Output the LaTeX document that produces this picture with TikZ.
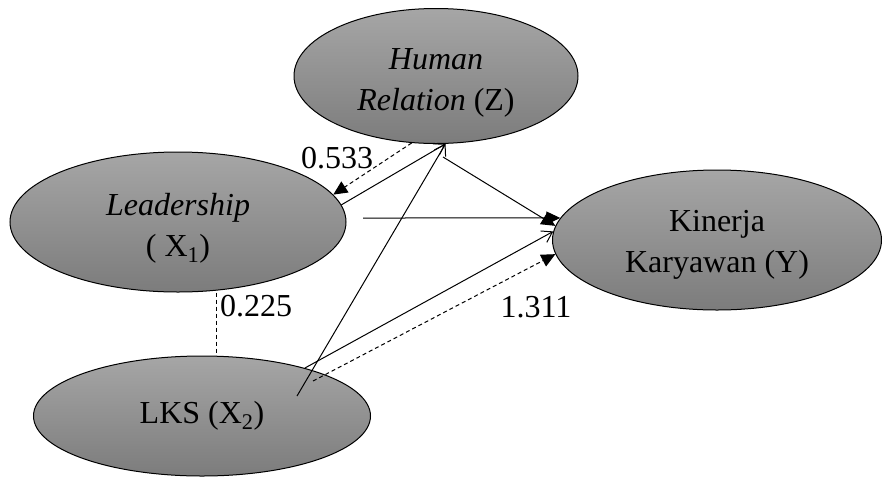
\documentclass[tikz,border=0pt]{standalone}
\usepackage{fontspec}
\setmainfont{Liberation Serif}
\usetikzlibrary{shapes.geometric,arrows.meta}
\definecolor{ovaltop}{RGB}{166,166,166}
\definecolor{ovalbot}{RGB}{124,124,124}

\begin{document}
\begin{tikzpicture}[x=1pt, y=-1pt, line width=1pt,
  var/.style={ellipse, draw, inner sep=0pt, top color=ovaltop, bottom color=ovalbot},
  vartext/.style={align=center, font=\fontsize{32}{41}\selectfont},
  val/.style={font=\fontsize{32}{38}\selectfont},
  fulltip/.style={-{Triangle[length=14pt,width=13pt]}},
  opentip/.style={-{Straight Barb[length=10pt,width=13pt]}},
  dashline/.style={dash pattern=on 4pt off 3pt}]
\useasboundingbox (0,0) rectangle (882,477);

% draw the variables
\node[var, minimum width=284pt, minimum height=135pt] (Z) at (436,76) {};
\node[var, minimum width=336pt, minimum height=140pt] (X1) at (178,222) {};
\node[var, minimum width=337pt, minimum height=120pt] (X2) at (202,416) {};
\node[var, minimum width=329pt, minimum height=140pt] (Y) at (717,240) {};

% names of the variables
\node[vartext] (Zname) at ([yshift=-7pt]Z.center) {\textit{Human}\\\textit{Relation} (Z)};
\node[vartext] (X1name) at ([yshift=-6pt]X1.center) {\textit{Leadership}\\( X\textsubscript{1})};
\node[vartext] (X2name) at (X2.center) {LKS (X\textsubscript{2})};
\node[vartext] (Yname) at ([yshift=-5pt]Y.center) {Kinerja\\Karyawan (Y)};

% loose ends of some paths
\coordinate (x1out) at (363,218);
\coordinate (zout) at (443,157);
\coordinate (x2up) at (297,396);
\coordinate (x2dash) at (313,381);

% dashed paths
\draw[dashline, fulltip] (Z.250) -- (X1.10);
\draw[dashline, fulltip] (x2dash) -- (Y.185);
\draw[dashline] ([xshift=38pt]X1.south) -- ([xshift=14pt]X2.north);

% direct paths
\draw[opentip] (X1.6) -- (Z.278);
\draw[opentip] (x2up) -- (Z.278);
\draw[opentip] (X2.25) -- (Y.177);
\draw[fulltip] (zout) -- (Y.175);
\draw[fulltip] (x1out) -- (Y.172);

% draw the values
\node[val] (v1) at (337,158) {0.533};
\node[val] (v2) at (256,306) {0.225};
\node[val] (v3) at (536,307) {1.311};
\end{tikzpicture}
\end{document}
